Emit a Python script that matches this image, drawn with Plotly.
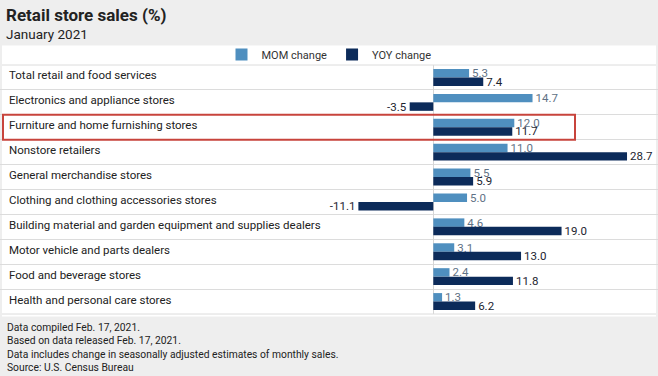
import plotly.graph_objects as go

categories = [
    "Total retail and food services",
    "Electronics and appliance stores",
    "Furniture and home furnishing stores",
    "Nonstore retailers",
    "General merchandise stores",
    "Clothing and clothing accessories stores",
    "Building material and garden equipment and supplies dealers",
    "Motor vehicle and parts dealers",
    "Food and beverage stores",
    "Health and personal care stores",
]
mom_change = [5.3, 14.7, 12.0, 11.0, 5.5, 5.0, 4.6, 3.1, 2.4, 1.3]
yoy_change = [7.4, -3.5, 11.7, 28.7, 5.9, -11.1, 19.0, 13.0, 11.8, 6.2]
highlight = "Furniture and home furnishing stores"

W, H = 658, 376
TOP, BOT = 64.5, 314.5
PH = BOT - TOP


def py(p):
    return (BOT - p) / PH


FONT = "Roboto"
MOM_COLOR = "#4f8fbf"
YOY_COLOR = "#0c2b5a"

fig = go.Figure()
fig.add_trace(go.Bar(
    y=categories, x=mom_change, orientation="h", name="MOM change",
    marker=dict(color=MOM_COLOR, line=dict(width=0)),
    texttemplate="%{x:.1f}", textposition="outside",
    textfont=dict(family=FONT, size=11.5, color="#5f7286"),
    constraintext="none", cliponaxis=False,
))
fig.add_trace(go.Bar(
    y=categories, x=yoy_change, orientation="h", name="YOY change",
    marker=dict(color=YOY_COLOR, line=dict(width=0)),
    texttemplate="%{x:.1f}", textposition="outside",
    textfont=dict(family=FONT, size=11.5, color="#1c2430"),
    constraintext="none", cliponaxis=False,
))

zero_px = 433.3
scale = 6.75
fig.update_layout(
    width=W, height=H,
    margin=dict(l=0, r=0, t=TOP, b=H - BOT, pad=0, autoexpand=False),
    paper_bgcolor="#eeeeee",
    plot_bgcolor="rgba(0,0,0,0)",
    barmode="group", bargap=0.32, bargroupgap=0,
    font=dict(family=FONT, size=11, color="#222"),
    showlegend=True,
    legend=dict(orientation="h", x=0.5, xanchor="center", y=py(54), yanchor="middle",
                font=dict(family=FONT, size=11, color="#333"),
                bgcolor="rgba(0,0,0,0)", traceorder="normal", itemwidth=30),
    xaxis=dict(range=[-zero_px / scale, (W - zero_px) / scale], showgrid=False,
               showticklabels=False, zeroline=True, zerolinecolor="#d6d6d6",
               zerolinewidth=1, fixedrange=True),
    yaxis=dict(type="category", autorange="reversed", showticklabels=False,
               tickson="boundaries", showgrid=True, gridcolor="#dcdcdc", gridwidth=1,
               ticks="", zeroline=False, showline=False),
)

shapes = [
    dict(type="rect", xref="paper", yref="paper", x0=2 / W, x1=656 / W,
         y0=py(317), y1=py(45), fillcolor="white", line=dict(width=0), layer="below"),
    dict(type="line", xref="paper", yref="paper", x0=2 / W, x1=656 / W,
         y0=py(TOP), y1=py(TOP), line=dict(color="#dcdcdc", width=1)),
    dict(type="line", xref="paper", yref="paper", x0=2 / W, x1=656 / W,
         y0=py(BOT), y1=py(BOT), line=dict(color="#dcdcdc", width=1)),
]
hi = categories.index(highlight)
shapes.append(dict(type="rect", xref="paper", yref="y", x0=3 / W, x1=575 / W,
                   y0=hi - 0.5, y1=hi + 0.5, line=dict(color="#c8443c", width=2),
                   fillcolor="rgba(0,0,0,0)"))
fig.update_layout(shapes=shapes)

annotations = []
for c in categories:
    annotations.append(dict(x=7 / W, xref="paper", y=c, yref="y", text=c,
                            xanchor="left", yanchor="middle", showarrow=False, yshift=2,
                            font=dict(family=FONT, size=11.5, color="#222")))
annotations.append(dict(x=4 / W, xref="paper", y=py(14), yref="paper",
                        text="<b>Retail store sales (%)</b>", xanchor="left",
                        yanchor="middle", showarrow=False,
                        font=dict(family=FONT, size=17, color="#222")))
annotations.append(dict(x=4 / W, xref="paper", y=py(33), yref="paper",
                        text="January 2021", xanchor="left", yanchor="middle",
                        showarrow=False, font=dict(family=FONT, size=13.5, color="#222")))
annotations.append(dict(x=5 / W, xref="paper", y=py(320), yref="paper",
                        text="Data compiled Feb. 17, 2021.<br>Based on data released Feb. 17, 2021.<br>"
                             "Data includes change in seasonally adjusted estimates of monthly sales.<br>"
                             "Source: U.S. Census Bureau",
                        xanchor="left", yanchor="top", align="left", showarrow=False,
                        font=dict(family=FONT, size=10.3, color="#222")))
fig.update_layout(annotations=annotations)

fig.write_html("out.html", config={"displayModeBar": False},
               post_script="document.body.style.margin='0';document.body.style.overflow='hidden';")
